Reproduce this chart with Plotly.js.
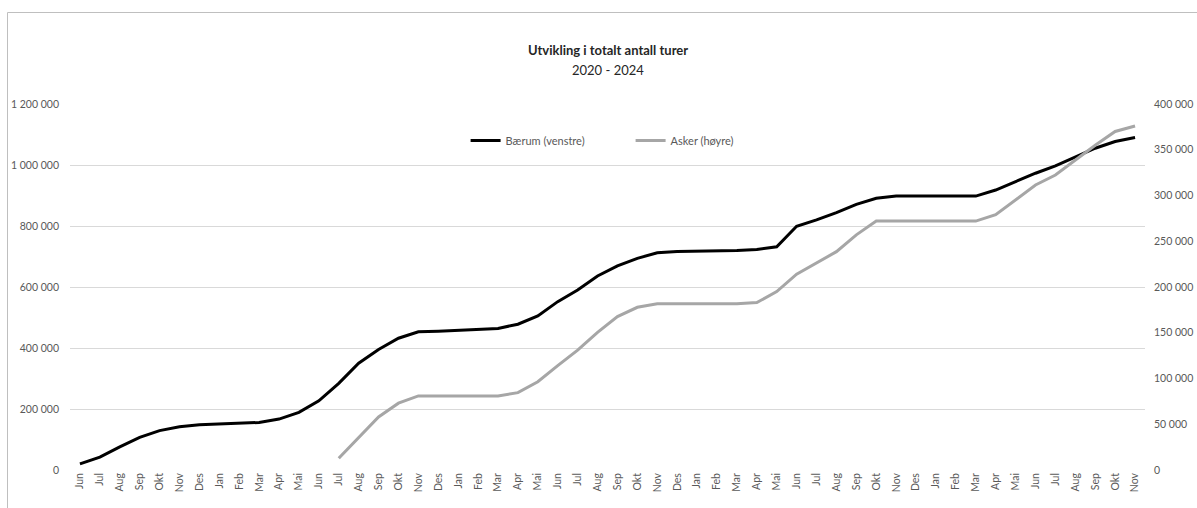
<!DOCTYPE html>
<html>
<head>
<meta charset="utf-8">
<script src="https://cdn.plot.ly/plotly-3.0.1.min.js"></script>
<style>html,body{margin:0;padding:0;background:#fff;}#chart{width:1197px;height:508px;}</style>
</head>
<body>
<div id="chart"></div>
<script>
var monthLabels = ["Jun","Jul","Aug","Sep","Okt","Nov","Des",
  "Jan","Feb","Mar","Apr","Mai","Jun","Jul","Aug","Sep","Okt","Nov","Des",
  "Jan","Feb","Mar","Apr","Mai","Jun","Jul","Aug","Sep","Okt","Nov","Des",
  "Jan","Feb","Mar","Apr","Mai","Jun","Jul","Aug","Sep","Okt","Nov","Des",
  "Jan","Feb","Mar","Apr","Mai","Jun","Jul","Aug","Sep","Okt","Nov"];

var baerum = [20000,42000,76000,107000,129000,142000,148000,
  150000,152000,156000,167000,189000,227000,284000,350000,395000,432000,453000,455000,
  458000,459000,464000,478000,505000,552000,590000,636000,669000,694000,712000,716000,
  717000,718000,720000,723000,732000,799000,820000,844000,871000,891000,898000,898000,
  898000,898000,898000,918000,945000,973000,997000,1027000,1055000,1077000,1090000];

var asker = [null,null,null,null,null,null,null,
  null,null,null,null,null,null,12800,35700,58000,73000,81000,81000,
  81000,81000,81000,84500,96500,114000,131000,150500,167600,177800,181800,181800,
  181800,181800,181800,183000,195000,214000,226600,238600,257000,272000,272000,272000,
  272000,272000,272000,279000,295000,311500,322400,339000,355000,370000,376000];

var xIdx = monthLabels.map(function(_, i){ return i; });

var FONT = "Lato, 'Open Sans', sans-serif";
function tf(){ return {family: FONT, size: 10.5, color: "rgb(89,89,89)"}; }

var traces = [
  {x: xIdx, y: baerum, name: "Bærum (venstre)", type: "scatter", mode: "lines",
   line: {color: "#000000", width: 3}, yaxis: "y"},
  {x: xIdx, y: asker, name: "Asker (høyre)", type: "scatter", mode: "lines",
   line: {color: "#A6A6A6", width: 3}, yaxis: "y2", connectgaps: false}
];

var layout = {
  width: 1197, height: 508,
  margin: {l: 70, r: 52, t: 104, b: 38},
  paper_bgcolor: "#fff", plot_bgcolor: "#fff",
  separators: ", ",
  font: {family: FONT, size: 11, color: "rgb(89,89,89)"},
  showlegend: true,
  legend: {orientation: "h", x: 0.368, y: 0.90, xanchor: "left", yanchor: "middle",
    font: {family: FONT, size: 11, color: "rgb(89,89,89)"},
    bgcolor: "rgba(0,0,0,0)", entrywidth: 120, entrywidthmode: "pixels"},
  xaxis: {type: "linear", range: [-0.5, 53.5], tickmode: "array", tickvals: xIdx, ticktext: monthLabels,
    tickangle: -90, showgrid: false, zeroline: false, showline: false, ticks: "",
    tickfont: tf(), color: "rgb(89,89,89)", fixedrange: true},
  yaxis: {range: [0, 1200000], dtick: 200000, tickformat: ",d", showgrid: true,
    gridcolor: "#D9D9D9", gridwidth: 1, zeroline: false, showline: false, ticks: "",
    tickfont: tf(), color: "rgb(89,89,89)", ticklabelstandoff: 10},
  yaxis2: {range: [0, 400000], dtick: 50000, tickformat: ",d", overlaying: "y", side: "right",
    showgrid: false, zeroline: false, showline: false, ticks: "", tickfont: tf(),
    color: "rgb(89,89,89)", ticklabelstandoff: 8},
  annotations: [
    {text: "<b>Utvikling i totalt antall turer</b>", xref: "paper", yref: "paper",
     x: 0.5, y: (470 - 50) / 366, xanchor: "center", yanchor: "middle", showarrow: false,
     font: {family: FONT, size: 13, color: "#262626"}},
    {text: "2020 - 2024", xref: "paper", yref: "paper",
     x: 0.5, y: (470 - 70) / 366, xanchor: "center", yanchor: "middle", showarrow: false,
     font: {family: FONT, size: 13, color: "#262626"}}
  ],
  shapes: [
    {type: "line", xref: "paper", yref: "paper", x0: (7.5 - 70) / 1075, x1: (7.5 - 70) / 1075,
     y0: (470 - 12.5) / 366, y1: (470 - 520) / 366, line: {color: "#BFBFBF", width: 1}},
    {type: "line", xref: "paper", yref: "paper", x0: (7.5 - 70) / 1075, x1: (1210 - 70) / 1075,
     y0: (470 - 12.5) / 366, y1: (470 - 12.5) / 366, line: {color: "#BFBFBF", width: 1}}
  ]
};

Plotly.newPlot("chart", traces, layout, {displayModeBar: false, staticPlot: true});
</script>
</body>
</html>
